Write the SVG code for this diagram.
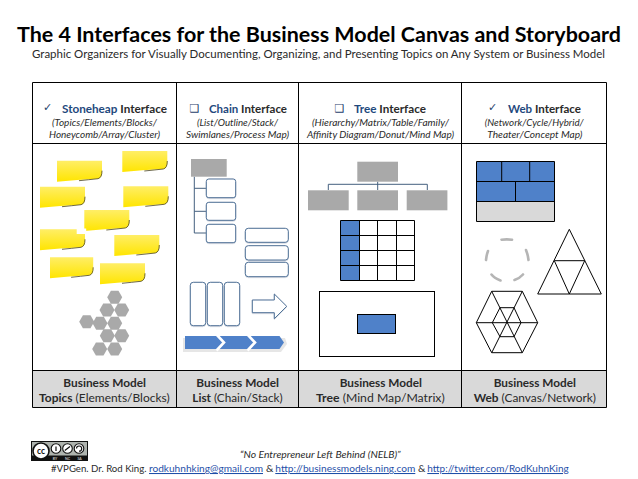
<svg xmlns="http://www.w3.org/2000/svg" width="638" height="479" viewBox="0 0 638 479">
<style>
text{font-family:"Lato","Liberation Sans",sans-serif;fill:#1a1a1a}
.title{font-size:20px;font-weight:700;fill:#000}
.sub{font-size:11.3px;fill:#2a2a2a}
.hd{font-size:11.6px;font-weight:700;fill:#2a2a2a}
.hd .c{fill:#1f497d}
.it{font-size:9.6px;font-style:italic;fill:#2a2a2a}
.bot{font-size:11.6px;fill:#2a2a2a}
.bot .b,.b{font-weight:700}
.foot{font-size:10.4px;fill:#2a2a2a}
.link{fill:#1f4fa8;text-decoration:underline}
.sym{font-family:"DejaVu Sans",sans-serif;font-size:11px;fill:#1f3f6d}
.grid{stroke:#000;stroke-width:1;fill:none}
.ln{stroke:#000;stroke-width:1;fill:none}
.gr{fill:#a9a9a9;filter:url(#soft)}
.rb{fill:#fff;stroke:#4f7197;stroke-width:1;filter:url(#sh)}
.bl{fill:#4f81c9}
.conn{stroke:#44607f;stroke-width:1;fill:none}
.dash{stroke:#b5b5b5;stroke-width:2.6;fill:none;stroke-linecap:round;filter:url(#soft)}
</style>
<defs>
<linearGradient id="y" x1="0" y1="0" x2="0" y2="1"><stop offset="0" stop-color="#ffee66"/><stop offset="1" stop-color="#ffe500"/></linearGradient>
<filter id="soft" x="-20%" y="-20%" width="140%" height="140%"><feGaussianBlur stdDeviation="0.5"/></filter>
<filter id="sh" x="-20%" y="-20%" width="140%" height="140%"><feDropShadow dx="0" dy="0.5" stdDeviation="0.6" flood-color="#8a9ab0" flood-opacity="0.6"/></filter>
<g id="sticky"><path d="M0 0H45V12Q45 17 41 18Q20 19 0 21Z" fill="url(#y)"/><path d="M45 10Q45 17 41 18Q32 19 22 20" fill="none" stroke="#4a4420" stroke-width="0.8"/></g>
<polygon id="hex" points="-7.5,0 -3.8,-6.5 3.8,-6.5 7.5,0 3.8,6.5 -3.8,6.5" fill="#a9a9a9" filter="url(#soft)"/>
</defs>
<rect width="638" height="479" fill="#fff"/>
<g id="heading">
<text class="title" x="17" y="41.5" textLength="604" lengthAdjust="spacingAndGlyphs">The 4 Interfaces for the Business Model Canvas and Storyboard</text>
<text class="sub" x="32" y="58.3" textLength="573" lengthAdjust="spacingAndGlyphs">Graphic Organizers for Visually Documenting, Organizing, and Presenting Topics on Any System or Business Model</text>
</g>
<g id="table">
<rect x="32.5" y="370.5" width="574" height="37" fill="#d9d9d9"/>
<path class="grid" d="M32.5 82.5H606.5M32.5 143.5H606.5M32.5 370.5H606.5M32.5 407.5H606.5M32.5 82.5V407.5M176.5 82.5V407.5M298.5 82.5V407.5M461.5 82.5V407.5M606.5 82.5V407.5"/>
</g>
<g id="header-stoneheap">
<text class="sym" x="43" y="111">✓</text>
<text class="hd" x="62" y="113" textLength="105" lengthAdjust="spacingAndGlyphs"><tspan class="c">Stoneheap</tspan> Interface</text>
<text class="it" x="52" y="126" textLength="105" lengthAdjust="spacingAndGlyphs">(Topics/Elements/Blocks/</text>
<text class="it" x="49" y="138" textLength="111" lengthAdjust="spacingAndGlyphs">Honeycomb/Array/Cluster)</text>
</g>
<g id="header-chain">
<text class="sym" x="189.5" y="112">❑</text>
<text class="hd" x="209" y="113" textLength="78" lengthAdjust="spacingAndGlyphs"><tspan class="c">Chain</tspan> Interface</text>
<text class="it" x="197" y="126" textLength="81" lengthAdjust="spacingAndGlyphs">(List/Outline/Stack/</text>
<text class="it" x="186" y="138" textLength="103" lengthAdjust="spacingAndGlyphs">Swimlanes/Process Map)</text>
</g>
<g id="header-tree">
<text class="sym" x="334.5" y="112">❑</text>
<text class="hd" x="354" y="113" textLength="72" lengthAdjust="spacingAndGlyphs"><tspan class="c">Tree</tspan> Interface</text>
<text class="it" x="312" y="126" textLength="137" lengthAdjust="spacingAndGlyphs">(Hierarchy/Matrix/Table/Family/</text>
<text class="it" x="307" y="138" textLength="147" lengthAdjust="spacingAndGlyphs">Affinity Diagram/Donut/Mind Map)</text>
</g>
<g id="header-web">
<text class="sym" x="488" y="111">✓</text>
<text class="hd" x="508" y="113" textLength="73" lengthAdjust="spacingAndGlyphs"><tspan class="c">Web</tspan> Interface</text>
<text class="it" x="484.7" y="126" textLength="99" lengthAdjust="spacingAndGlyphs">(Network/Cycle/Hybrid/</text>
<text class="it" x="487.3" y="138" textLength="95" lengthAdjust="spacingAndGlyphs">Theater/Concept Map)</text>
</g>
<g id="stickies">
<use href="#sticky" x="57" y="160.7"/>
<use href="#sticky" x="122.3" y="151"/>
<use href="#sticky" x="40" y="186.7"/>
<use href="#sticky" x="123.3" y="186.3"/>
<use href="#sticky" x="84.3" y="210"/>
<use href="#sticky" x="40" y="229.3"/>
<rect x="76.7" y="228.5" width="9.5" height="5.5" fill="#fff"/>
<use href="#sticky" x="114.3" y="235"/>
<use href="#sticky" transform="translate(50 257.3) scale(0.96 1)"/>
<use href="#sticky" x="100" y="263.3"/>
</g>
<g id="honeycomb">
<use href="#hex" x="114.7" y="297.3"/><use href="#hex" x="107" y="310"/><use href="#hex" x="121.7" y="310"/>
<use href="#hex" x="86.7" y="321.7"/><use href="#hex" x="100" y="323.3"/><use href="#hex" x="114.7" y="323.3"/>
<use href="#hex" x="107.3" y="335.7"/><use href="#hex" x="121.7" y="335.7"/>
<use href="#hex" x="99.7" y="349"/><use href="#hex" x="114.7" y="349"/>
</g>
<g id="connectors">
<path class="conn" d="M194.3 176.7V233H206.3M194.3 188.3H206.3M194.3 211.3H206.3"/>
<path class="conn" d="M377.7 181.7V190M328.3 190V184.3H427.3V190"/>
</g>
<g id="chain-list">
<rect class="gr" x="191" y="159" width="35.7" height="17.7"/>
<rect class="rb" x="206.3" y="179" width="29.4" height="18.7" rx="2.5"/>
<rect class="rb" x="206.3" y="202.3" width="29.4" height="18" rx="2.5"/>
<rect class="rb" x="206.3" y="224.3" width="29.4" height="18.4" rx="2.5"/>
</g>
<g id="chain-stack">
<rect class="rb" x="245.3" y="228.3" width="43" height="14" rx="3"/>
<rect class="rb" x="245.3" y="245.7" width="43" height="14.3" rx="3"/>
<rect class="rb" x="245.3" y="262.3" width="43" height="14.4" rx="3"/>
</g>
<g id="chain-lanes">
<rect class="rb" x="190.3" y="282.3" width="15.4" height="43.4" rx="3"/>
<rect class="rb" x="207.3" y="282.3" width="15.4" height="43.4" rx="3"/>
<rect class="rb" x="224.3" y="282.3" width="15.4" height="43.4" rx="3"/>
</g>
<g id="chain-arrow">
<polygon class="rb" points="252.3,300 274.3,300 274.3,294 286.7,306.3 274.3,318.7 274.3,312.7 252.3,312.7"/>
</g>
<g id="chain-process">
<polygon points="183,338 285,338 287,344 281,352 183,352" fill="#c9c9c9" opacity="0.45" filter="url(#soft)"/>
<polygon class="bl" points="185,336 279.5,336 284,342.5 279.5,349 185,349"/>
<path d="M216.5 334.5L224 342.5L216.5 350.5M247.5 334.5L255 342.5L247.5 350.5" fill="none" stroke="#fff" stroke-width="2.6"/>
</g>
<g id="tree-hierarchy">
<rect class="gr" x="357.3" y="161.7" width="40.7" height="20"/>
<rect class="gr" x="308" y="190.3" width="40.7" height="20"/>
<rect class="gr" x="357.3" y="190.3" width="40.7" height="20"/>
<rect class="gr" x="406.7" y="190.3" width="40.7" height="20"/>
</g>
<g id="tree-matrix">
<rect class="bl" x="340.5" y="220.5" width="19" height="60"/>
<path class="ln" d="M340.5 220.5H414.5V280.5H340.5ZM340.5 235.5H414.5M340.5 250.5H414.5M340.5 265.5H414.5M359.5 220.5V280.5M377.5 220.5V280.5M396.5 220.5V280.5"/>
</g>
<g id="tree-map">
<rect class="ln" x="319.5" y="291.5" width="115" height="65"/>
<rect class="bl" x="357.5" y="314.5" width="38" height="19" stroke="#000" stroke-width="1"/>
</g>
<g id="web-canvas">
<rect class="bl" x="476.5" y="161.5" width="78" height="40"/>
<rect x="476.5" y="201.5" width="78" height="20" fill="#d9d9d9"/>
<path class="ln" d="M476.5 161.5H554.5V221.5H476.5ZM476.5 181.5H554.5M476.5 201.5H554.5M501.7 161.5V181.5M529.7 161.5V181.5M515.5 181.5V201.5"/>
</g>
<g id="web-cycle">
<path class="dash" d="M501.5 239.7Q507 239 512 239.7M488 251Q486.5 255 486 260M526 250Q528 255 528.5 260M491.5 274.5Q494 278 500.5 280.5M514.5 280Q520 278 523 274.5"/>
</g>
<g id="web-triangle">
<path class="ln" d="M569.3 229.3L601.3 294H537.7ZM554.3 260.7H584.7L569.3 294Z"/>
</g>
<g id="web-hexagon">
<path class="ln" d="M476.3 322.7L491.7 291.3H522.3L537.7 322.7L522.3 352.7H491.7Z"/>
<path class="ln" d="M492.3 322.7L500 307.7H514L521 322.7L514 336.7H500Z"/>
<path class="ln" d="M476.3 322.7H537.7M491.7 291.3L522.3 352.7M522.3 291.3L491.7 352.7"/>
</g>
<g id="footer-topics">
<text class="bot b" x="63.3" y="386.7" textLength="82.7" lengthAdjust="spacingAndGlyphs">Business Model</text>
<text class="bot" x="39" y="401.7" textLength="130.7" lengthAdjust="spacingAndGlyphs"><tspan class="b">Topics</tspan> (Elements/Blocks)</text>
</g>
<g id="footer-list">
<text class="bot b" x="196.3" y="386.7" textLength="82.7" lengthAdjust="spacingAndGlyphs">Business Model</text>
<text class="bot" x="192.3" y="401.7" textLength="90.4" lengthAdjust="spacingAndGlyphs"><tspan class="b">List</tspan> (Chain/Stack)</text>
</g>
<g id="footer-tree">
<text class="bot b" x="339.7" y="386.7" textLength="82.3" lengthAdjust="spacingAndGlyphs">Business Model</text>
<text class="bot" x="316" y="401.7" textLength="128.7" lengthAdjust="spacingAndGlyphs"><tspan class="b">Tree</tspan> (Mind Map/Matrix)</text>
</g>
<g id="footer-web">
<text class="bot b" x="493.7" y="386.7" textLength="82.3" lengthAdjust="spacingAndGlyphs">Business Model</text>
<text class="bot" x="473.7" y="401.7" textLength="122.3" lengthAdjust="spacingAndGlyphs"><tspan class="b">Web</tspan> (Canvas/Network)</text>
</g>
<g id="cc-badge">
<rect x="31" y="441" width="57" height="20" fill="#111"/>
<rect x="32" y="442" width="55" height="13.5" fill="#aeb3ae"/>
<circle cx="41" cy="451" r="8" fill="#fff" stroke="#111" stroke-width="1.6"/>
<text x="41" y="454" text-anchor="middle" style="font-size:8.5px;font-weight:700;fill:#111">cc</text>
<g fill="#fff" stroke="#111" stroke-width="1.1"><circle cx="56" cy="448.5" r="4.8"/><circle cx="67.5" cy="448.5" r="4.8"/><circle cx="79" cy="448.5" r="4.8"/></g>
<path d="M56 446.5V451M64.8 450.5L70 446.5M76.5 448.5A2.6 2.6 0 1 1 79 451.2" fill="none" stroke="#111" stroke-width="1.2"/>
<text x="55" y="460" text-anchor="middle" style="font-size:3.5px;fill:#eee">BY</text>
<text x="67.5" y="460" text-anchor="middle" style="font-size:3.5px;fill:#eee">NC</text>
<text x="79.5" y="460" text-anchor="middle" style="font-size:3.5px;fill:#eee">SA</text>
</g>
<g id="footer-note">
<text class="foot" x="240" y="458" font-style="italic" textLength="160.7" lengthAdjust="spacingAndGlyphs">“No Entrepreneur Left Behind (NELB)”</text>
<text class="foot" x="51" y="472" textLength="95.5" lengthAdjust="spacingAndGlyphs">#VPGen. Dr. Rod King.</text>
<text class="foot link" x="149" y="472" textLength="114" lengthAdjust="spacingAndGlyphs">rodkuhnhking@gmail.com</text>
<text class="foot" x="266" y="472">&amp;</text>
<text class="foot link" x="275.3" y="472" textLength="140" lengthAdjust="spacingAndGlyphs">http://businessmodels.ning.com</text>
<text class="foot" x="418" y="472">&amp;</text>
<text class="foot link" x="427.3" y="472" textLength="141.4" lengthAdjust="spacingAndGlyphs">http://twitter.com/RodKuhnKing</text>
</g>
</svg>
